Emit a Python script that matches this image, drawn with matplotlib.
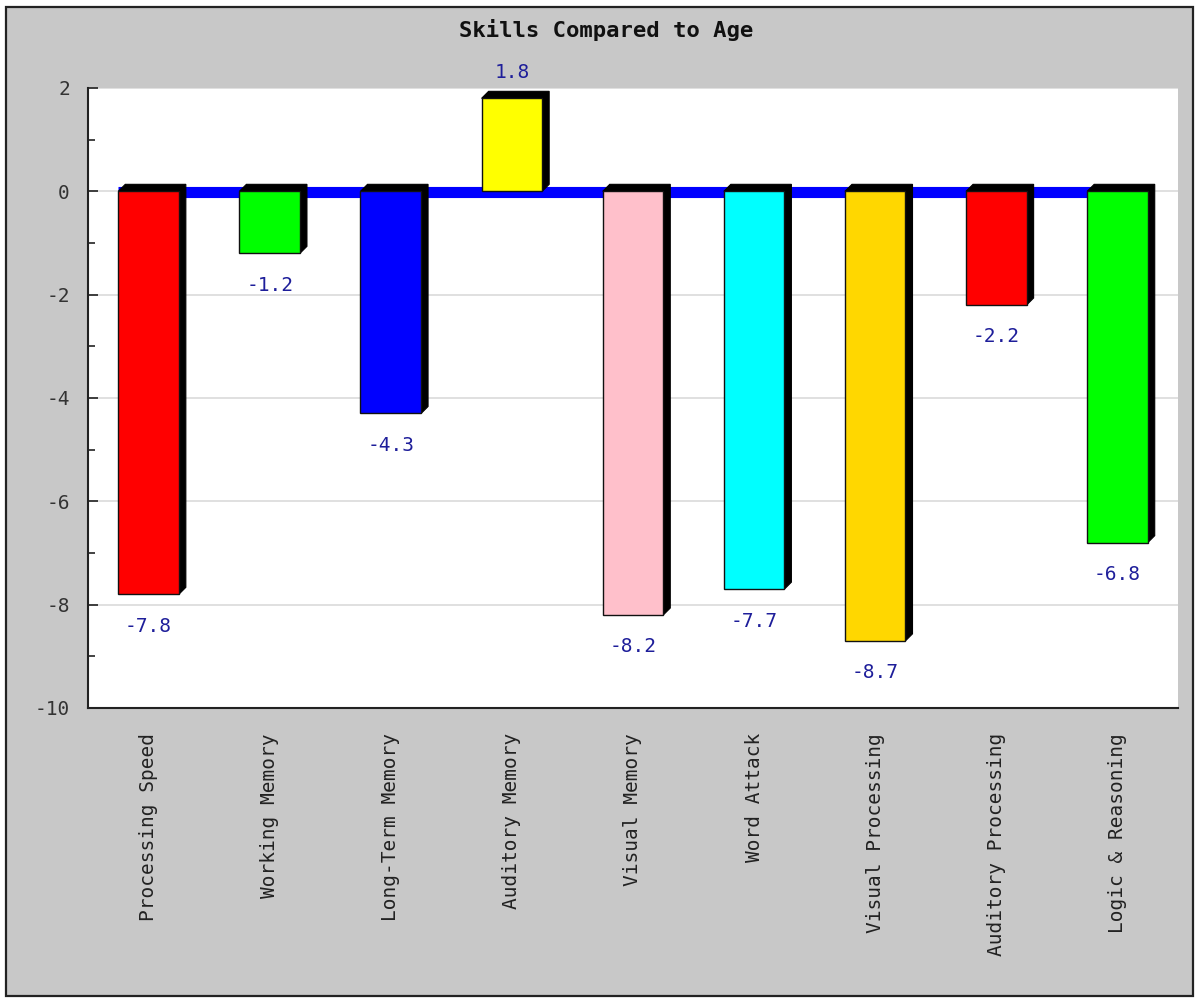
import matplotlib
matplotlib.use("Agg")
import matplotlib.pyplot as plt
from matplotlib.patches import Polygon, Rectangle
from matplotlib.ticker import MultipleLocator

categories = ["Processing Speed", "Working Memory", "Long-Term Memory", "Auditory Memory",
              "Visual Memory", "Word Attack", "Visual Processing", "Auditory Processing",
              "Logic & Reasoning"]
values = [-7.8, -1.2, -4.3, 1.8, -8.2, -7.7, -8.7, -2.2, -6.8]
colors = ["#FF0000", "#00FF00", "#0000FF", "#FFFF00", "#FFC0CB", "#00FFFF", "#FFD700",
          "#FF0000", "#00FF00"]
title = "Skills Compared to Age"

W, H = 1196, 1000
fig = plt.figure(figsize=(W / 100, H / 100), dpi=100, facecolor="white")

# outer gray panel with frame
fig.patches.append(Rectangle((6 / W, 1 - 996 / H), (1193 - 6) / W, (996 - 7) / H,
                             transform=fig.transFigure, facecolor="#C8C8C8",
                             edgecolor="#222222", linewidth=1.6, zorder=-10))

ax_l, ax_r, ax_t, ax_b = 88, 1178, 88, 708
ax = fig.add_axes([ax_l / W, 1 - ax_b / H, (ax_r - ax_l) / W, (ax_b - ax_t) / H])
ax.set_zorder(1)
ax.set_facecolor("white")
ax.set_xlim(-0.5, len(values) - 0.5)
ax.set_ylim(-10, 2)

mono = "DejaVu Sans Mono"
label_color = "#1E1E9A"

# gridlines
ax.yaxis.set_major_locator(MultipleLocator(2))
ax.yaxis.set_minor_locator(MultipleLocator(1))
ax.grid(axis="y", which="major", color="#DDDDDD", linewidth=1.3, zorder=0)
ax.set_axisbelow(True)

for s in ["top", "right"]:
    ax.spines[s].set_visible(False)
for s in ["left", "bottom"]:
    ax.spines[s].set_color("#222222")
    ax.spines[s].set_linewidth(1.5)

ax.tick_params(axis="y", which="major", direction="in", length=7.5, width=1.2,
               color="#222222", pad=13, labelsize=14, labelcolor="#333333")
ax.tick_params(axis="y", which="minor", direction="in", length=5, width=1.2, color="#222222")
ax.tick_params(axis="x", length=0, pad=18, labelsize=14, labelcolor="#222222")
ax.set_xticks(range(len(categories)))
ax.set_xticklabels(categories, rotation=90, va="top", ha="center")
for lab in ax.get_xticklabels() + ax.get_yticklabels():
    lab.set_family(mono)
ax.yaxis.set_major_formatter(matplotlib.ticker.FuncFormatter(lambda v, p: f"{v:.0f}"))

# pixel to data conversion for 3D depth
px_x = (len(values)) / (ax_r - ax_l)
px_y = 12 / (ax_b - ax_t)
depth = 7
dx, dy = depth * px_x, depth * px_y
width = 0.5

# blue zero line
ax.hlines(-1.0 * px_y, -width / 2, len(values) - 1 + width / 2, color="#0000FF",
          linewidth=8, zorder=1)

for i, (v, c) in enumerate(zip(values, colors)):
    a, b = i - width / 2, i + width / 2
    top, bot = max(v, 0), min(v, 0)
    shadow = Polygon([(a, top), (a + dx, top + dy), (b + dx, top + dy),
                      (b + dx, bot + dy), (b, bot), (b, top)],
                     closed=True, facecolor="black", edgecolor="black", linewidth=0.8, zorder=2)
    ax.add_patch(shadow)
    ax.add_patch(Rectangle((a, bot), width, top - bot, facecolor=c, edgecolor="#111111",
                           linewidth=1.0, zorder=3))
    if v >= 0:
        ax.annotate(f"{v:.1f}", (i, v), xytext=(0, 26), textcoords="offset pixels",
                    ha="center", va="center", fontsize=14, family=mono, color=label_color,
                    annotation_clip=False)
    else:
        ax.annotate(f"{v:.1f}", (i, v), xytext=(0, -32), textcoords="offset pixels",
                    ha="center", va="center", fontsize=14, family=mono, color=label_color,
                    annotation_clip=False)

fig.text(606 / W, 1 - 30 / H, title, ha="center", va="center", fontsize=16,
         fontweight="bold", family=mono, color="#111111")

fig.savefig("out.png", dpi=100, facecolor="white")
